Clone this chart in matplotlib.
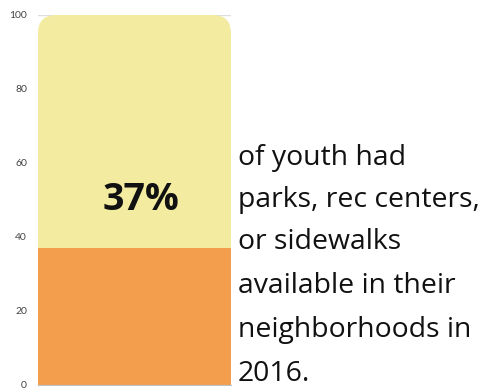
import matplotlib
matplotlib.use("Agg")
import matplotlib.pyplot as plt
from matplotlib.patches import FancyBboxPatch

# data
share = 37
total = 100
yticks = [0, 20, 40, 60, 80, 100]
caption = ["of youth had", "parks, rec centers,", "or sidewalks",
           "available in their", "neighborhoods in", "2016."]

W, H = 481, 389
fig = plt.figure(figsize=(W / 100, H / 100), dpi=100)
ax = fig.add_axes([38 / W, 4 / H, (231 - 38) / W, (385 - 15) / H])

bars_bot = ax.bar([0], [share], width=1, color="#F29E4C", zorder=2)
bars_top = ax.bar([0], [total - share], bottom=[share], width=1, color="#F3ECA0", zorder=2)

# rounded top corners via clip path (axes coords)
clip = FancyBboxPatch((0, -0.2), 1, 1.2, boxstyle="round,pad=0,rounding_size=0.095",
                      mutation_aspect=193 / 370, transform=ax.transAxes,
                      facecolor="none", edgecolor="none")
ax.add_patch(clip)
for b in list(bars_bot) + list(bars_top):
    b.set_clip_path(clip)

ax.set_xlim(-0.5, 0.5)
ax.set_ylim(0, 100)
ax.set_yticks(yticks)
ax.set_yticklabels([str(t) for t in yticks], fontsize=7.5, color="#444444", family="Lato")
ax.tick_params(axis="y", length=0, pad=8)
ax.set_xticks([])
ax.grid(axis="y", color="#dddddd", linewidth=1, zorder=0)
for s in ["top", "right", "left"]:
    ax.spines[s].set_visible(False)
ax.spines["bottom"].set_color("#bcc3cc")
ax.spines["bottom"].set_zorder(3)

ax.text(0.035, share + 13, f"{share}%", ha="center", va="center", fontsize=27,
        fontweight="bold", family="Open Sans", color="#111111")

baselines = [165, 207, 249, 293, 337, 381]
for line, yb in zip(caption, baselines):
    fig.text(238 / W, 1 - yb / H, line, ha="left", va="baseline", fontsize=20.4,
             family="Open Sans", color="#111111")

fig.savefig("out.png", dpi=100)
